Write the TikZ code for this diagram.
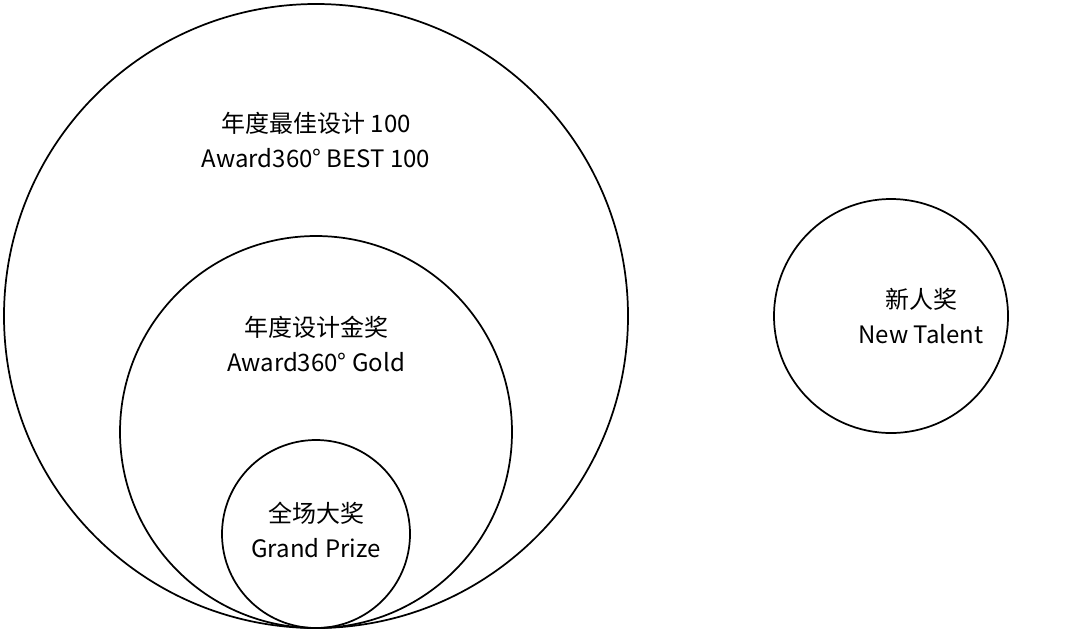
\documentclass[tikz,border=0pt]{standalone}
\usepackage{fontspec}
\setmainfont{Noto Sans CJK SC}
\begin{document}
\begin{tikzpicture}[x=0.75pt,y=-0.75pt,
  ring/.style={draw, line width=1.3pt},
  lbl/.style={align=center, font=\fontsize{18}{26}\selectfont}
  ]
  \useasboundingbox (0,0) rectangle (1080,633);
  % award circles
  \draw[ring] (316,316) circle[radius=312];
  \draw[ring] (316,432) circle[radius=196];
  \draw[ring] (316,534) circle[radius=94];
  \draw[ring] (891,316) circle[radius=117];
  % labels
  \node (best)   [lbl] at (316,140) {年度最佳设计 100\\Award360° BEST 100};
  \node (gold)   [lbl] at (316,344) {年度设计金奖\\Award360° Gold};
  \node (grand)  [lbl] at (316,530) {全场大奖\\Grand Prize};
  \node (talent) [lbl] at (921,316) {新人奖\\New Talent};
\end{tikzpicture}
\end{document}
